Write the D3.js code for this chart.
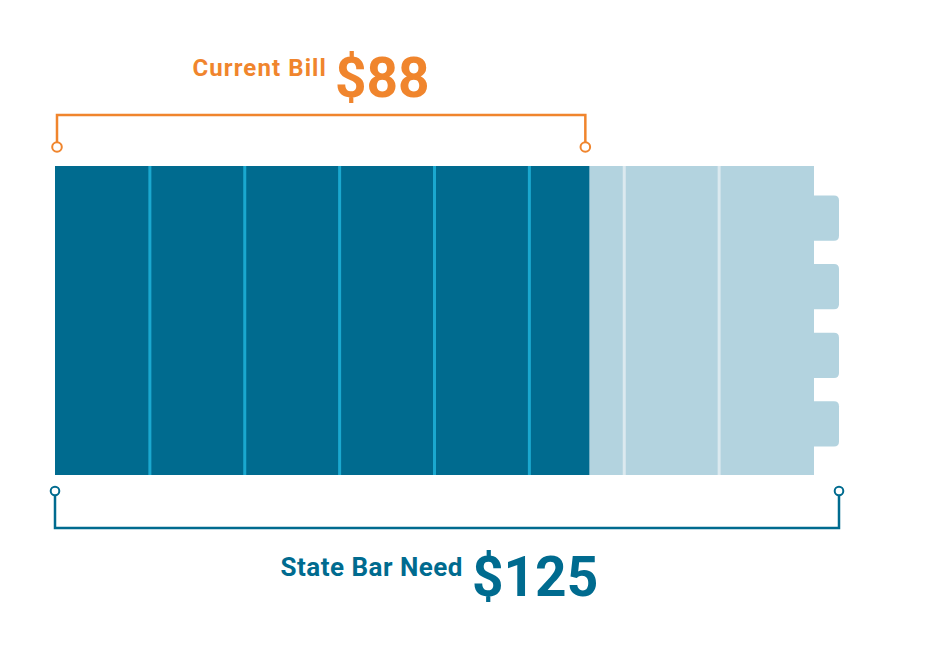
<!DOCTYPE html>
<html>
<head>
<meta charset="utf-8">
<script src="https://cdn.jsdelivr.net/npm/d3@7"></script>
<style>
  html, body { margin: 0; padding: 0; background: #fff; }
  svg { display: block; font-family: Roboto, "Noto Sans", sans-serif; }
</style>
</head>
<body>
<svg id="chart" width="934" height="650"></svg>
<script>
// ---- data ----
const currentBill = 88;
const stateBarNeed = 125;
const segmentCount = 8;
const currentLabel = "Current Bill";
const needLabel = "State Bar Need";
const terminalCount = 4;

// ---- layout ----
const svg = d3.select("#chart");
const barTop = 166, barBottom = 475;
const x = d3.scaleLinear().domain([0, stateBarNeed]).range([55, 814]);
const y = d3.scaleBand().domain(d3.range(terminalCount)).range([190, 452]).paddingInner(0.34).paddingOuter(0.08);

const dark = "#006b8f", light = "#b3d3df", orange = "#f0852d";
const darkDiv = "#1aa8cf", lightDiv = "#dbe9ef";

// battery terminals
const tabW = 25;
svg.append("g").selectAll("path").data(d3.range(terminalCount)).join("path")
  .attr("fill", light)
  .attr("d", d => {
    const x0 = x(stateBarNeed), y0 = y(d), h = y.bandwidth(), r = 5;
    return `M${x0},${y0} H${x0 + tabW - r} Q${x0 + tabW},${y0} ${x0 + tabW},${y0 + r} V${y0 + h - r} Q${x0 + tabW},${y0 + h} ${x0 + tabW - r},${y0 + h} H${x0} Z`;
  });

// light (need) bar
svg.append("rect")
  .attr("x", x(0)).attr("y", barTop)
  .attr("width", x(stateBarNeed) - x(0)).attr("height", barBottom - barTop)
  .attr("fill", light);

// dark (current) bar
svg.append("rect")
  .attr("x", x(0)).attr("y", barTop)
  .attr("width", x(currentBill) - x(0)).attr("height", barBottom - barTop)
  .attr("fill", dark);

// segment dividers
const segSize = stateBarNeed / segmentCount;
const divs = d3.range(1, segmentCount).map(i => i * segSize);
svg.append("g").selectAll("line").data(divs).join("line")
  .attr("x1", d => x(d)).attr("x2", d => x(d))
  .attr("y1", barTop).attr("y2", barBottom)
  .attr("stroke", d => d < currentBill ? darkDiv : lightDiv)
  .attr("stroke-width", 3);

// top bracket (current)
const topLineY = 115, topDotY = 147;
const tb = svg.append("g");
tb.append("path")
  .attr("d", `M${x(0) + 2},${topDotY} V${topLineY} H${x(currentBill) - 4} V${topDotY}`)
  .attr("fill", "none").attr("stroke", orange).attr("stroke-width", 2.5);
tb.selectAll("circle").data([0, currentBill]).join("circle")
  .attr("cx", (d, i) => i ? x(d) - 4 : x(d) + 2).attr("cy", topDotY).attr("r", 4.8)
  .attr("fill", "#fff").attr("stroke", orange).attr("stroke-width", 2);

// bottom bracket (need)
const botLineY = 528, botDotY = 491;
const bb = svg.append("g");
bb.append("path")
  .attr("d", `M${x(0)},${botDotY} V${botLineY} H${x(stateBarNeed) + tabW} V${botDotY}`)
  .attr("fill", "none").attr("stroke", dark).attr("stroke-width", 2.5);
bb.selectAll("circle").data([0, stateBarNeed]).join("circle")
  .attr("cx", (d, i) => i ? x(d) + tabW : x(d)).attr("cy", botDotY).attr("r", 4.3)
  .attr("fill", "#fff").attr("stroke", dark).attr("stroke-width", 2);

// labels
const fmt = v => "$" + d3.format("d")(v);
svg.append("text").attr("x", 327).attr("y", 76).attr("text-anchor", "end")
  .attr("font-size", 24).attr("font-weight", 700).attr("letter-spacing", 1.1)
  .attr("fill", orange).text(currentLabel);
svg.append("text").attr("x", 335).attr("y", 97).attr("text-anchor", "start")
  .attr("font-size", 55).attr("font-weight", 700).attr("fill", orange).text(fmt(currentBill));

svg.append("text").attr("x", 463).attr("y", 576).attr("text-anchor", "end")
  .attr("font-size", 26).attr("font-weight", 700).attr("letter-spacing", 0.5)
  .attr("fill", dark).text(needLabel);
svg.append("text").attr("x", 472).attr("y", 596).attr("text-anchor", "start")
  .attr("font-size", 55).attr("font-weight", 700).attr("fill", dark).text(fmt(stateBarNeed));
</script>
</body>
</html>
